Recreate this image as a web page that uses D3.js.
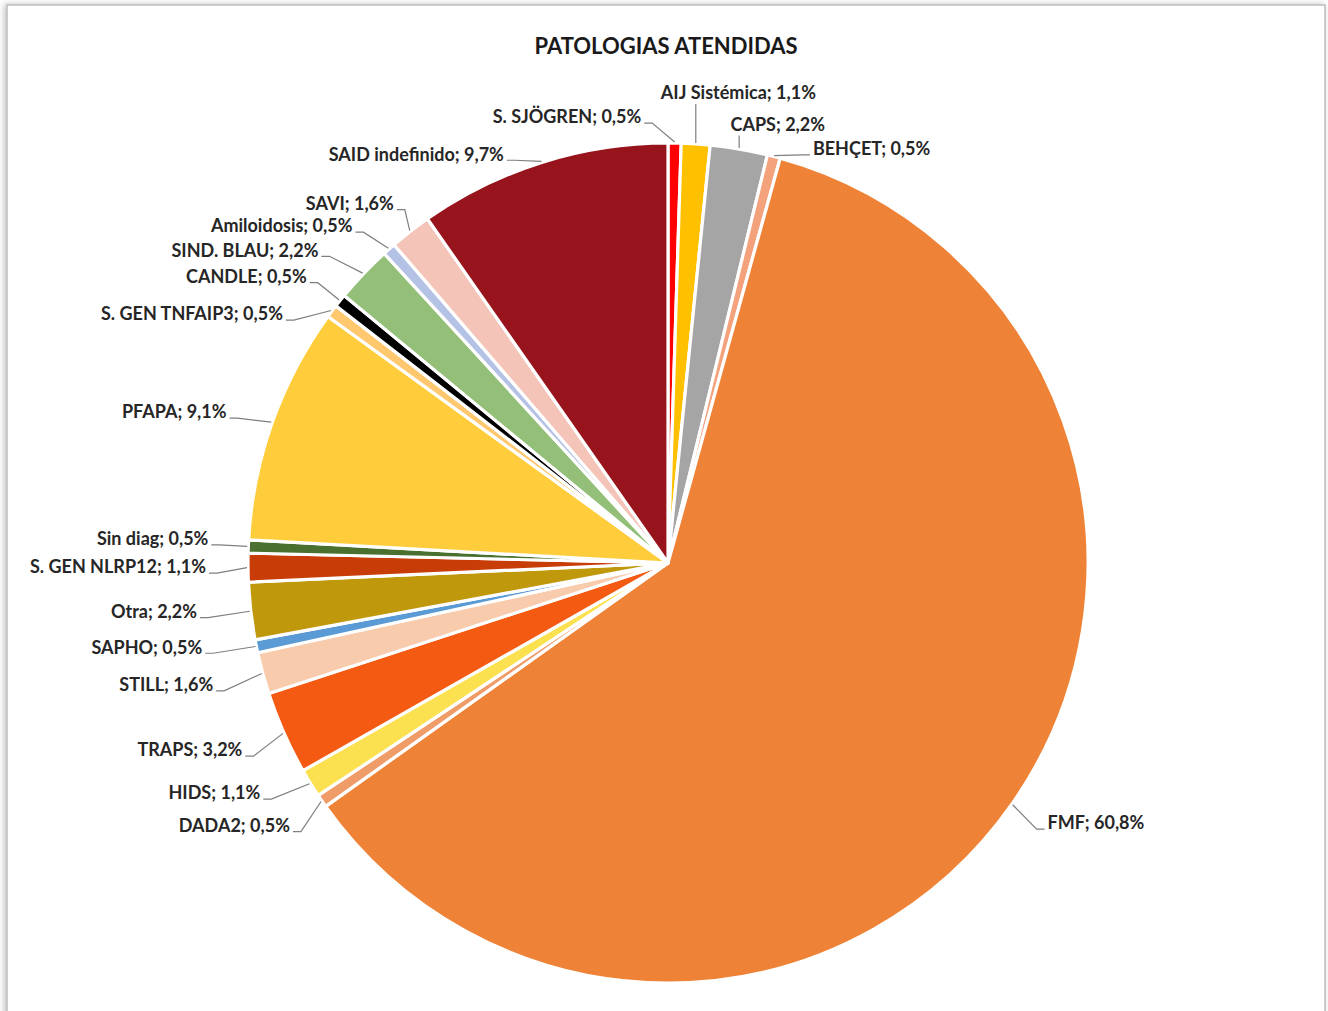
<!DOCTYPE html>
<meta charset="utf-8">
<style>
    body {
        margin: 0;
        background: #fff;
        font-family: Lato, "Open Sans", sans-serif;
    }

    .title {
        font-size: 22px;
        font-weight: 700;
        fill: #1a1a1a;
    }

    .lbl {
        font-size: 18px;
        font-weight: 700;
        fill: #262626;
    }

    .leader {
        fill: none;
        stroke: #7f7f7f;
        stroke-width: 1.2;
    }
</style>

<body>
    <svg width="1328" height="1011"></svg>

    <script src="https://d3js.org/d3.v7.min.js"></script>
    <script>
        // datos (orden de las porciones, sentido horario desde las 12)
        const categories = ["S. SJÖGREN", "AIJ Sistémica", "CAPS", "BEHÇET", "FMF", "DADA2", "HIDS",
            "TRAPS", "STILL", "SAPHO", "Otra", "S. GEN NLRP12", "Sin diag", "PFAPA", "S. GEN TNFAIP3",
            "CANDLE", "SIND. BLAU", "Amiloidosis", "SAVI", "SAID indefinido"];
        const percents = [0.5, 1.1, 2.2, 0.5, 60.8, 0.5, 1.1, 3.2, 1.6, 0.5, 2.2, 1.1, 0.5, 9.1, 0.5,
            0.5, 2.2, 0.5, 1.6, 9.7];

        const sliceColors = ["#ff0000", "#ffc000", "#a5a5a5", "#f4a27c", "#ee8236", "#f09c68", "#fbe14f",
            "#f55a12", "#f8cbad", "#5b9bd5", "#bf980c", "#c83c08", "#4a7030", "#ffcd3b", "#ffc76e",
            "#000000", "#93bf78", "#b4c2e6", "#f4c4b8", "#98141c"];

        // ajuste manual de las etiquetas (como en Excel), relativo a la posición radial
        const labelLayout = [
            { dx: -34, dy: 14, anchor: "end" },
            { dx: 40, dy: -11, anchor: "middle" },
            { dx: 32, dy: 15, anchor: "middle" },
            { dx: 29, dy: 31, anchor: "start" },
            { dx: 3, dy: -4, anchor: "start" },
            { dx: 1, dy: 2, anchor: "end" },
            { dx: -16, dy: -11, anchor: "end" },
            { dx: -5, dy: 1, anchor: "end" },
            { dx: -11, dy: 1, anchor: "end" },
            { dx: -15, dy: -7, anchor: "end" },
            { dx: -14, dy: -4, anchor: "end" },
            { dx: -2, dy: -1, anchor: "end" },
            { dx: 0, dy: -6, anchor: "end" },
            { dx: -8, dy: 3, anchor: "end" },
            { dx: -17, dy: 27, anchor: "end" },
            { dx: -2, dy: 1, anchor: "end" },
            { dx: -16, dy: 4, anchor: "end" },
            { dx: -10, dy: 7, anchor: "end" },
            { dx: 8, dy: 4, anchor: "end" },
            { dx: -26, dy: 30, anchor: "end" }
        ];

        const svg = d3.select("svg");
        const width = +svg.attr("width");
        const height = +svg.attr("height");

        const cx = 668, cy = 563, radius = 420;

        // marco del gráfico con sombra
        const defs = svg.append("defs");
        const shadow = defs.append("filter").attr("id", "shadow")
            .attr("x", "-5%").attr("y", "-5%").attr("width", "110%").attr("height", "110%");
        shadow.append("feDropShadow").attr("dx", -2).attr("dy", 0).attr("stdDeviation", 3)
            .attr("flood-color", "#000").attr("flood-opacity", 0.25);

        svg.append("rect")
            .attr("x", 7).attr("y", 5)
            .attr("width", 1318).attr("height", height + 40)
            .attr("fill", "#fff")
            .attr("stroke", "#bdbdbd")
            .attr("stroke-width", 1.5)
            .attr("filter", "url(#shadow)");

        svg.append("text")
            .attr("class", "title")
            .attr("x", 666).attr("y", 46)
            .attr("dy", "0.35em")
            .attr("text-anchor", "middle")
            .text("PATOLOGIAS ATENDIDAS");

        const data = categories.map((c, i) => ({ name: c, value: percents[i], color: sliceColors[i], layout: labelLayout[i] }));

        const pie = d3.pie().sort(null).value(d => d.value);
        const arcs = pie(data);

        const arc = d3.arc().innerRadius(0).outerRadius(radius);

        const g = svg.append("g").attr("transform", `translate(${cx},${cy})`);

        g.selectAll("path.slice")
            .data(arcs)
            .join("path")
            .attr("class", "slice")
            .attr("d", arc)
            .attr("fill", d => d.data.color)
            .attr("stroke", "#fff")
            .attr("stroke-width", 3.2)
            .attr("stroke-linejoin", "round");

        const fmt = v => d3.format(".1f")(v).replace(".", ",") + "%";

        function polar(a, r) {
            return [r * Math.sin(a), -r * Math.cos(a)];
        }

        arcs.forEach(d => {
            const mid = (d.startAngle + d.endAngle) / 2;
            const anchorPt = polar(mid, radius + 1);
            const base = polar(mid, radius + 40);
            const lay = d.data.layout;
            const lx = base[0] + lay.dx;
            const ly = base[1] + lay.dy;

            g.append("text")
                .attr("class", "lbl")
                .attr("x", lx).attr("y", ly)
                .attr("dy", "0.35em")
                .attr("text-anchor", lay.anchor)
                .text(`${d.data.name}; ${fmt(d.data.value)}`);

            let pts;
            if (lay.anchor === "end") {
                pts = [[lx + 3, ly + 6], [lx + 11, ly + 6], anchorPt];
            } else if (lay.anchor === "start") {
                pts = [[lx - 3, ly + 6], [lx - 11, ly + 6], anchorPt];
            } else {
                pts = [[anchorPt[0], ly + 11], anchorPt];
            }
            g.append("path")
                .attr("class", "leader")
                .attr("d", d3.line()(pts));
        });
    </script>
</body>
